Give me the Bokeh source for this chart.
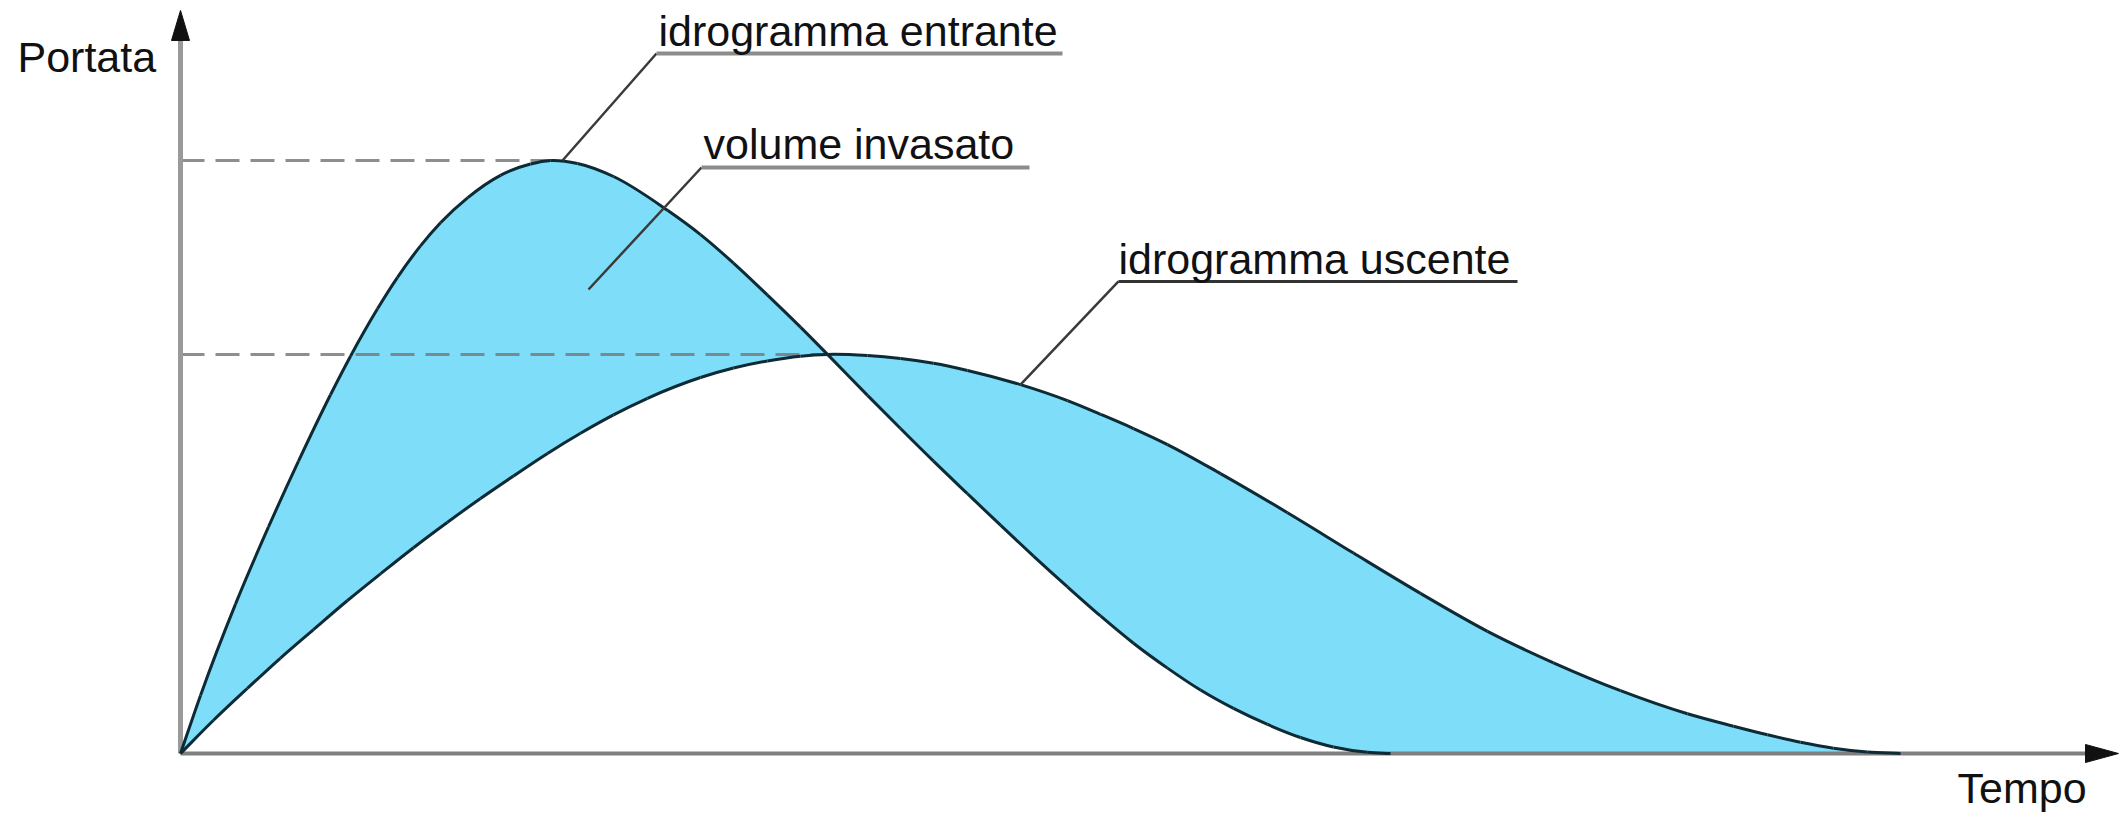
from bokeh.plotting import figure
from bokeh.models import Range1d
from bokeh.core.properties import value
from bokeh.embed import file_html
from bokeh.resources import INLINE

# ---------------- data (time in arbitrary units, flow as % of inflow peak) ----------------
time_in = [0.00, 0.20, 0.55, 0.88, 1.18, 1.50, 1.70, 1.97, 2.17, 2.40,
           2.60, 2.87, 3.20, 3.50, 3.70, 3.97, 4.33, 4.87, 5.20, 5.53,
           5.87, 6.20, 6.47, 6.87, 7.20, 7.53, 7.87, 8.20, 8.53, 8.87,
           9.20, 9.53, 9.87, 10.20, 10.53, 10.87, 11.20, 11.53, 11.87, 12.10]
flow_in = [0.0, 9.8, 25.2, 38.2, 49.3, 60.5, 67.0, 75.0, 80.3, 85.6,
           89.5, 93.7, 97.5, 99.4, 100.0, 99.5, 97.3, 91.6, 87.5, 82.7,
           77.3, 71.9, 67.3, 60.4, 54.8, 49.3, 43.8, 38.5, 33.3, 28.1,
           23.2, 18.6, 14.4, 10.7, 7.6, 4.9, 2.7, 1.1, 0.2, 0.0]

time_out = [0.00, 0.33, 0.67, 1.00, 1.33, 1.67, 2.00, 2.33, 2.67, 3.00,
            3.33, 3.67, 4.00, 4.33, 4.67, 5.20, 5.53, 5.87, 6.20, 6.47,
            6.87, 7.20, 7.53, 7.87, 8.40, 8.87, 9.20, 9.53, 9.87, 10.40,
            11.07, 11.73, 12.40, 13.07, 13.73, 14.40, 15.07, 15.53, 15.87, 16.20,
            16.53, 16.87, 17.20]
flow_out = [0.0, 5.6, 11.0, 16.1, 20.9, 25.8, 30.3, 34.7, 39.0, 43.0,
            46.8, 50.6, 54.0, 57.1, 59.9, 63.4, 65.0, 66.2, 67.0, 67.3,
            67.1, 66.6, 65.8, 64.6, 62.2, 59.5, 57.2, 54.8, 52.1, 47.2,
            40.6, 33.8, 27.0, 20.6, 15.3, 10.6, 6.7, 4.6, 3.15, 1.9,
            0.9, 0.25, 0.0]

label_texts = ["idrogramma entrante", "volume invasato", "idrogramma uscente"]
axis_titles = ["Portata", "Tempo"]

# ---------------- layout constants ----------------
X_RANGE = (-1.80, 19.43)
Y_RANGE = (-10.961, 126.981)
FONT = value("Liberation Sans")
FSIZE = value("43px")
LINE_COL = "#0d2a35"
FILL_COL = "#7edefa"


def smooth_segments(xs, ys):
    """Piecewise cubic Hermite curve (in x) through the points, as Bezier segments."""
    n = len(xs)
    h = [xs[i + 1] - xs[i] for i in range(n - 1)]
    d = [(ys[i + 1] - ys[i]) / h[i] for i in range(n - 1)]
    m = [d[0]]
    for i in range(1, n - 1):
        m.append((h[i] * d[i - 1] + h[i - 1] * d[i]) / (h[i - 1] + h[i]))
    m.append(d[-1])
    out = {k: [] for k in ("x0", "y0", "x1", "y1", "cx0", "cy0", "cx1", "cy1")}
    for i in range(n - 1):
        out["x0"].append(xs[i]); out["y0"].append(ys[i])
        out["x1"].append(xs[i + 1]); out["y1"].append(ys[i + 1])
        out["cx0"].append(xs[i] + h[i] / 3.0); out["cy0"].append(ys[i] + m[i] * h[i] / 3.0)
        out["cx1"].append(xs[i + 1] - h[i] / 3.0); out["cy1"].append(ys[i + 1] - m[i + 1] * h[i] / 3.0)
    return out


p = figure(width=2123, height=818,
           x_range=Range1d(*X_RANGE), y_range=Range1d(*Y_RANGE),
           toolbar_location=None, output_backend="svg",
           x_axis_type=None, y_axis_type=None, min_border=0)
p.outline_line_color = None
p.background_fill_color = "white"
p.border_fill_color = "white"

# stored volume (area between the two hydrographs)
p.patch(x=time_in + time_out[::-1], y=flow_in + flow_out[::-1],
        fill_color=FILL_COL, line_color=None)

# peak reference dashed lines
i_pk = flow_in.index(max(flow_in))
o_pk = flow_out.index(max(flow_out))
p.segment(x0=[0, 0], y0=[flow_in[i_pk], flow_out[o_pk]],
          x1=[time_in[i_pk], time_out[o_pk]], y1=[flow_in[i_pk], flow_out[o_pk]],
          line_color="#7a7a7a", line_width=3, line_dash="24 11", line_alpha=0.85)

# axes
y_tip, y_base, hw_y = 125.30, 120.24, 0.09
x_tip, x_base, hw_x = 19.38, 19.05, 1.52
p.segment(x0=[0], y0=[0], x1=[0], y1=[y_base + 1], line_color="#9a9a9a", line_width=5)
p.segment(x0=[0], y0=[0], x1=[x_base + 0.05], y1=[0], line_color="#7f7f7f", line_width=4)
p.patches(xs=[[0, -hw_y, hw_y], [x_tip, x_base, x_base]],
          ys=[[y_tip, y_base, y_base], [0, hw_x, -hw_x]],
          fill_color="#111111", line_color="#111111", line_width=1)

# hydrographs (smooth curves through the read points)
for xs, ys in ((time_in, flow_in), (time_out, flow_out)):
    s = smooth_segments(xs, ys)
    p.bezier(x0=s["x0"], y0=s["y0"], x1=s["x1"], y1=s["y1"],
             cx0=s["cx0"], cy0=s["cy0"], cx1=s["cx1"], cy1=s["cy1"],
             line_color=LINE_COL, line_width=3)

# label positions (data units): text x, baseline y, underline, leader start
lab_x = [4.78, 5.23, 9.38]
lab_y = [121.92, 102.70, 83.47]
ul_x0 = [4.76, 5.21, 9.38]
ul_x1 = [8.82, 8.49, 13.37]
ul_y = [118.04, 98.82, 79.60]
ld_x = [3.82, 4.08, time_out[24]]
ld_y = [100.0, 78.25, flow_out[24]]

p.segment(x0=ld_x, y0=ld_y, x1=ul_x0, y1=ul_y, line_color="#3a3a3a", line_width=2.5)
p.segment(x0=ul_x0, y0=ul_y, x1=ul_x1, y1=ul_y,
          line_color=["#8c8c8c", "#8c8c8c", "#333333"], line_width=[4, 4, 3])

p.text(x=lab_x, y=lab_y, text=label_texts, text_font=FONT, text_font_size=FSIZE,
       text_baseline="alphabetic", text_align="left", text_color="#111111")
p.text(x=[-1.63, 17.77], y=[117.37, -5.90], text=axis_titles, text_font=FONT,
       text_font_size=FSIZE, text_baseline="alphabetic", text_align="left",
       text_color="#111111")

open("out.html", "w").write(file_html(p, INLINE))
